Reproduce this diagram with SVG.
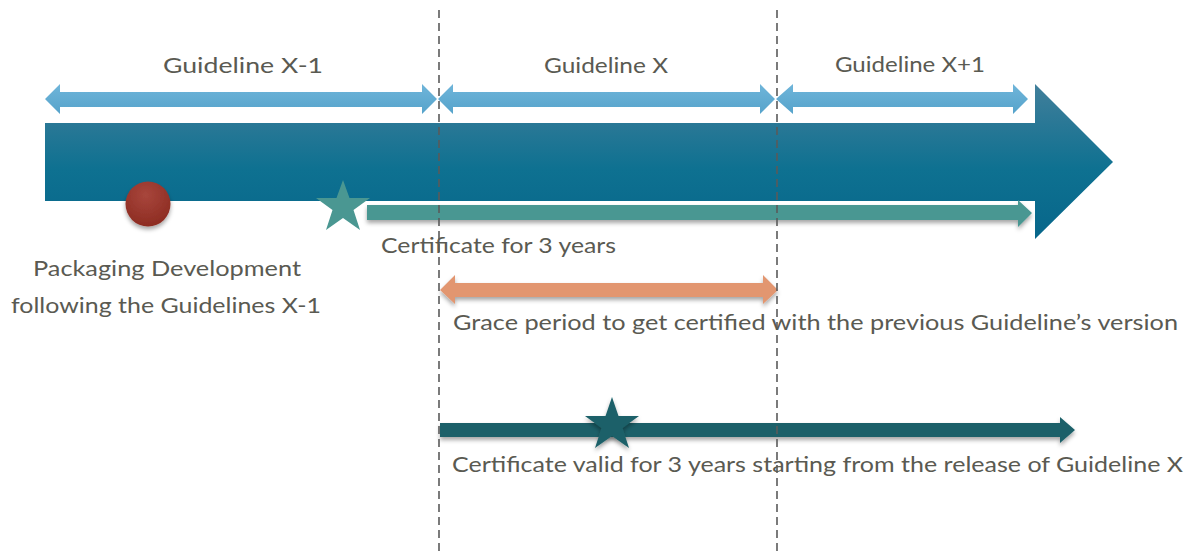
<svg xmlns="http://www.w3.org/2000/svg" width="1194" height="554" viewBox="0 0 1194 554">
<defs>
<linearGradient id="gMain" gradientUnits="userSpaceOnUse" x1="0" y1="84" x2="0" y2="239">
<stop offset="0" stop-color="#417f9b"/>
<stop offset="0.25" stop-color="#2a7896"/>
<stop offset="0.55" stop-color="#0e7191"/>
<stop offset="1" stop-color="#07668a"/>
</linearGradient>
<linearGradient id="gBlue" x1="0" y1="0" x2="0" y2="1">
<stop offset="0" stop-color="#6fb5da"/>
<stop offset="1" stop-color="#56a3cb"/>
</linearGradient>
<radialGradient id="gRed" cx="0.45" cy="0.3" r="0.75">
<stop offset="0" stop-color="#a8463c"/>
<stop offset="1" stop-color="#8b2a20"/>
</radialGradient>
<filter id="sh" x="-10%" y="-50%" width="120%" height="200%">
<feDropShadow dx="0" dy="3" stdDeviation="2" flood-color="#000" flood-opacity="0.35"/>
</filter>
</defs>
<style>
.t{font-family:"Source Sans Pro","Lato","Liberation Sans",sans-serif;font-size:22px;fill:#5a5a52}
.dash{stroke:#5a5a5a;stroke-width:1.6;stroke-dasharray:8,5;fill:none}
</style>
<rect width="1194" height="554" fill="#ffffff"/>

<g id="timeline">
<path d="M45,123 H1035 V84 L1113,162 L1035,239 V201 H45 Z" fill="url(#gMain)"/>
</g>

<g id="guidelines">
<polygon points="45,99 60,84 60,92 422,92 422,84 437,99 422,114 422,107 60,107 60,114" fill="url(#gBlue)"/>
<polygon points="438,99 453,84 453,92 760,92 760,84 775,99 760,114 760,107 453,107 453,114" fill="url(#gBlue)"/>
<polygon points="776,99 793,84 793,92 1013,92 1013,84 1028,99 1013,114 1013,107 793,107 793,114" fill="url(#gBlue)"/>
<text class="t" x="243" y="73" text-anchor="middle" textLength="160" lengthAdjust="spacingAndGlyphs">Guideline X-1</text>
<text class="t" x="606" y="73" text-anchor="middle" textLength="124" lengthAdjust="spacingAndGlyphs">Guideline X</text>
<text class="t" x="910" y="72" text-anchor="middle" textLength="150" lengthAdjust="spacingAndGlyphs">Guideline X+1</text>
</g>

<g id="connectors">
<rect x="35" y="201" width="1000" height="30" fill="#ffffff"/>
<polygon points="367,205 1018,205 1018,200 1032,213 1018,227 1018,220 367,220" fill="#4a9792" filter="url(#sh)"/>
<polygon points="440,290 455,275 455,283 763,283 763,275 778,290 763,304 763,297 455,297 455,304" fill="#e29670" filter="url(#sh)"/>
<polygon points="440,423 1060,423 1060,417 1075,430 1060,443 1060,437 440,437" fill="#1c6169" filter="url(#sh)"/>
<line class="dash" x1="439" y1="10" x2="439" y2="554"/>
<line class="dash" x1="777" y1="10" x2="777" y2="554"/>
</g>

<g id="packaging">
<circle cx="148" cy="204" r="22.5" fill="url(#gRed)" filter="url(#sh)"/>
<text class="t" x="167" y="276" text-anchor="middle" textLength="268" lengthAdjust="spacingAndGlyphs">Packaging Development</text>
<text class="t" x="166" y="313" text-anchor="middle" textLength="310" lengthAdjust="spacingAndGlyphs">following the Guidelines X-1</text>
</g>

<g id="cert3">
<polygon points="343,180 349.5,198 370,198 353.5,210 360,230 343,218 326,230 332.5,210 316,198 336.5,198" fill="#4a9792"/>
<text class="t" x="381" y="253" textLength="235" lengthAdjust="spacingAndGlyphs">Certificate for 3 years</text>
</g>

<g id="grace">
<text class="t" x="453" y="330" textLength="725" lengthAdjust="spacingAndGlyphs">Grace period to get certified with the previous Guideline’s version</text>
</g>

<g id="certX">
<polygon points="612,397 618.5,416 639,416 622.5,428 629,448 612,436 595,448 601.5,428 585,416 605.5,416" fill="#1c6169" filter="url(#sh)"/>
<text class="t" x="452" y="472" textLength="731" lengthAdjust="spacingAndGlyphs">Certificate valid for 3 years starting from the release of Guideline X</text>
</g>
</svg>
